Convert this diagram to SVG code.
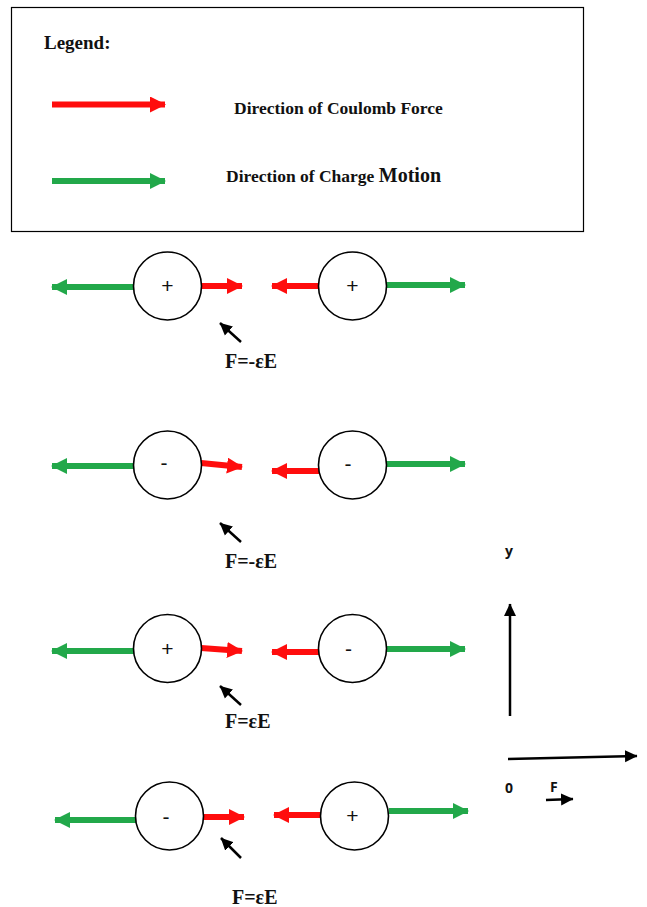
<svg xmlns="http://www.w3.org/2000/svg" width="647" height="907" viewBox="0 0 647 907">
<style>
.ser{font-family:"Liberation Serif","Times New Roman",serif;font-weight:bold;fill:#111}
.sgn{font-family:"Liberation Sans",Arial,sans-serif;font-size:21px;fill:#111;text-anchor:middle}
.ax{font-family:"Open Sans","Liberation Sans",sans-serif;font-weight:bold;font-size:14px;fill:#111}
.chg{fill:#fff;stroke:#000;stroke-width:1.6}
.r{stroke:#ff0d0d;stroke-width:6;fill:none}
.g{stroke:#22a84a;stroke-width:6;fill:none}
.k{stroke:#000;stroke-width:2.5;fill:none}
</style>
<defs>
<marker id="hr" markerUnits="userSpaceOnUse" markerWidth="18" markerHeight="18" refX="15" refY="8" orient="auto"><path d="M0,0 L16,8 L0,16 Z" fill="#ff0d0d"/></marker>
<marker id="hg" markerUnits="userSpaceOnUse" markerWidth="18" markerHeight="18" refX="15" refY="8" orient="auto"><path d="M0,0 L16,8 L0,16 Z" fill="#22a84a"/></marker>
<marker id="hk" markerUnits="userSpaceOnUse" markerWidth="14" markerHeight="14" refX="12" refY="6.5" orient="auto"><path d="M0,0.5 L12.5,6.5 L0,12.5 Z" fill="#000"/></marker>
</defs>
<rect width="647" height="907" fill="#fff"/>
<g id="legend">
<rect x="11.5" y="7.5" width="572" height="224" fill="#fff" stroke="#000" stroke-width="1.2"/>
<text class="ser" x="44" y="49" font-size="19">Legend:</text>
<line class="r" x1="52" y1="104.5" x2="165" y2="104.5" marker-end="url(#hr)"/>
<text class="ser" x="234" y="114" font-size="17.5">Direction of Coulomb Force</text>
<line class="g" x1="52" y1="181" x2="165" y2="181" marker-end="url(#hg)"/>
<text class="ser" x="226" y="182" font-size="17.5">Direction of Charge <tspan font-size="20">Motion</tspan></text>
</g>
<g id="connectors">
<line class="g" x1="134" y1="287" x2="52" y2="287" marker-end="url(#hg)"/>
<line class="r" x1="201" y1="286" x2="242" y2="286" marker-end="url(#hr)"/>
<line class="r" x1="319" y1="286" x2="272" y2="286" marker-end="url(#hr)"/>
<line class="g" x1="386" y1="285" x2="465" y2="285" marker-end="url(#hg)"/>
<line class="k" x1="241" y1="342" x2="220" y2="323" marker-end="url(#hk)"/>

<line class="g" x1="134" y1="466" x2="52" y2="466" marker-end="url(#hg)"/>
<line class="r" x1="201" y1="463" x2="242" y2="467" marker-end="url(#hr)"/>
<line class="r" x1="320" y1="471" x2="272" y2="471" marker-end="url(#hr)"/>
<line class="g" x1="386" y1="464" x2="465" y2="464" marker-end="url(#hg)"/>
<line class="k" x1="241" y1="542" x2="220" y2="523" marker-end="url(#hk)"/>

<line class="g" x1="134" y1="651" x2="52" y2="651" marker-end="url(#hg)"/>
<line class="r" x1="201" y1="648" x2="242" y2="651" marker-end="url(#hr)"/>
<line class="r" x1="319" y1="652" x2="272" y2="652" marker-end="url(#hr)"/>
<line class="g" x1="386" y1="649" x2="465" y2="649" marker-end="url(#hg)"/>
<line class="k" x1="241" y1="705" x2="220" y2="686" marker-end="url(#hk)"/>

<line class="g" x1="136" y1="820" x2="55" y2="820" marker-end="url(#hg)"/>
<line class="r" x1="203" y1="817" x2="244" y2="817" marker-end="url(#hr)"/>
<line class="r" x1="320" y1="815" x2="274" y2="815" marker-end="url(#hr)"/>
<line class="g" x1="389" y1="811" x2="468" y2="811" marker-end="url(#hg)"/>
<line class="k" x1="241" y1="858" x2="221" y2="838" marker-end="url(#hk)"/>
</g>
<g id="row1">
<g id="c1a"><circle class="chg" cx="167.5" cy="286" r="34"/><text class="sgn" x="167.5" y="293">+</text></g>
<g id="c1b"><circle class="chg" cx="352.5" cy="286" r="34"/><text class="sgn" x="352.5" y="293">+</text></g>
<text class="ser" x="225" y="368" font-size="20">F=-εE</text>
</g>
<g id="row2">
<g id="c2a"><circle class="chg" cx="167.5" cy="465" r="34"/><text class="sgn" x="164" y="470">-</text></g>
<g id="c2b"><circle class="chg" cx="352.5" cy="465" r="34"/><text class="sgn" x="348" y="471">-</text></g>
<text class="ser" x="225" y="568" font-size="20">F=-εE</text>
</g>
<g id="row3">
<g id="c3a"><circle class="chg" cx="167.5" cy="648.5" r="34"/><text class="sgn" x="167.5" y="656">+</text></g>
<g id="c3b"><circle class="chg" cx="352.5" cy="648.5" r="34"/><text class="sgn" x="348.5" y="656">-</text></g>
<text class="ser" x="225" y="728" font-size="20">F=εE</text>
</g>
<g id="row4">
<g id="c4a"><circle class="chg" cx="169.5" cy="816" r="34"/><text class="sgn" x="166" y="824">-</text></g>
<g id="c4b"><circle class="chg" cx="354.5" cy="816" r="34"/><text class="sgn" x="352.5" y="823">+</text></g>
<text class="ser" x="232" y="904" font-size="20">F=εE</text>
</g>
<g id="axes">
<line class="k" x1="510" y1="716" x2="510" y2="604" marker-end="url(#hk)"/>
<line class="k" x1="508" y1="759" x2="637" y2="756" marker-end="url(#hk)"/>
<text class="ax" x="505" y="556">y</text>
<text class="ax" x="505" y="793">0</text>
<text class="ax" x="550" y="792">F</text>
<line class="k" x1="546" y1="800" x2="573" y2="799" stroke-width="2" marker-end="url(#hk)"/>
</g>
</svg>
